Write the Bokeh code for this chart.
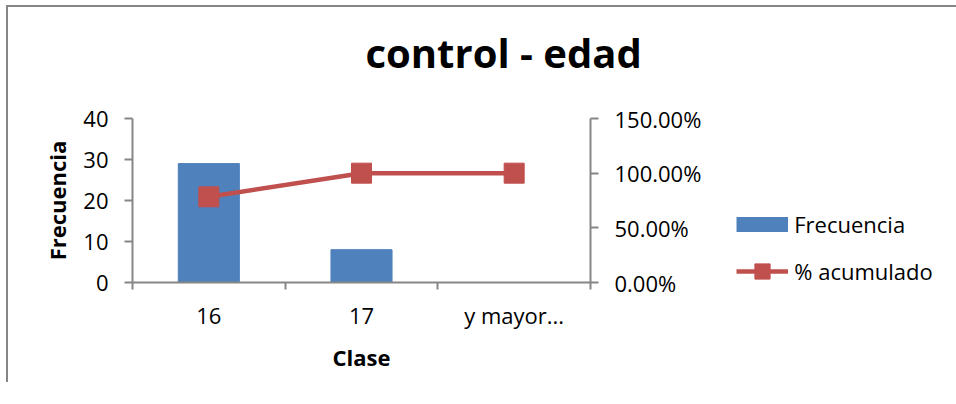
from bokeh.plotting import figure
from bokeh.models import (Range1d, LinearAxis, FixedTicker, NumeralTickFormatter,
                          CustomJSTickFormatter, Legend, LegendItem, Title, ColumnDataSource)
from bokeh.embed import file_html
from bokeh.resources import INLINE

categories = ["16", "17", "y mayor..."]
frecuencia = [29, 8, 0]
acumulado = [0.7838, 1.0, 1.0]
left_ticks = [0, 10, 20, 30, 40]
right_ticks = [0, 0.5, 1.0, 1.5]

FONT = "Open Sans"
AXIS_COLOR = "#868686"
BAR_COLOR = "#4F81BD"
LINE_COLOR = "#C0504D"
TICK_FS = "22px"
LABEL_FS = "22px"

xs = [i + 0.5 for i in range(len(categories))]
src = ColumnDataSource(dict(x=xs, freq=frecuencia, pct=acumulado, cat=categories))

p = figure(frame_width=458, frame_height=164, output_backend="svg", toolbar_location=None,
           x_range=Range1d(0, len(categories)), y_range=Range1d(0, 40),
           min_border_left=124, min_border_right=356, min_border_top=10,
           min_border_bottom=100, outline_line_color=None)
p.styles = {"border-top": "2px solid #868686", "border-left": "2px solid #868686",
            "margin-left": "6px", "margin-top": "5px"}
p.grid.visible = False
p.extra_y_ranges = {"pct": Range1d(0, 1.5), "key": Range1d(-1000, -999)}

# x axis
xa = p.xaxis[0]
xa.ticker = FixedTicker(ticks=xs, minor_ticks=list(range(len(categories) + 1)))
xa.formatter = CustomJSTickFormatter(args=dict(labels=categories),
                                     code="return labels[Math.floor(tick)] || ''")
xa.major_tick_out = 0
xa.major_tick_in = 0
xa.minor_tick_out = 7
xa.minor_tick_in = 0
xa.minor_tick_line_color = AXIS_COLOR
xa.minor_tick_line_width = 2
xa.axis_line_color = AXIS_COLOR
xa.axis_line_width = 2
xa.major_label_text_font = FONT
xa.major_label_text_font_size = TICK_FS
xa.major_label_text_color = "#000000"
xa.major_label_standoff = 10
xa.axis_label = "Clase"
xa.axis_label_text_font = FONT
xa.axis_label_text_font_style = "bold"
xa.axis_label_text_font_size = LABEL_FS
xa.axis_label_text_color = "#000000"
xa.axis_label_standoff = 9

# left axis
ya = p.yaxis[0]
ya.ticker = FixedTicker(ticks=left_ticks)
ya.major_tick_out = 8
ya.major_tick_in = 0
ya.minor_tick_out = 0
ya.minor_tick_in = 0
ya.major_tick_line_color = AXIS_COLOR
ya.major_tick_line_width = 2
ya.axis_line_color = AXIS_COLOR
ya.axis_line_width = 2
ya.major_label_text_font = FONT
ya.major_label_text_font_size = TICK_FS
ya.major_label_text_color = "#000000"
ya.major_label_standoff = 16
ya.axis_label = "Frecuencia"
ya.axis_label_text_font = FONT
ya.axis_label_text_font_style = "bold"
ya.axis_label_text_font_size = LABEL_FS
ya.axis_label_text_color = "#000000"
ya.axis_label_standoff = 8

# right axis
ra = LinearAxis(y_range_name="pct", ticker=FixedTicker(ticks=right_ticks),
                formatter=NumeralTickFormatter(format="0.00%"))
ra.major_tick_out = 8
ra.major_tick_in = 0
ra.minor_tick_out = 0
ra.minor_tick_in = 0
ra.major_tick_line_color = AXIS_COLOR
ra.major_tick_line_width = 2
ra.axis_line_color = AXIS_COLOR
ra.axis_line_width = 2
ra.major_label_text_font = FONT
ra.major_label_text_font_size = TICK_FS
ra.major_label_text_color = "#000000"
ra.major_label_standoff = 16
p.add_layout(ra, "right")

bars = p.vbar(x="x", top="freq", width=0.4, source=src, fill_color=BAR_COLOR,
              line_color=BAR_COLOR)
line = p.line(x="x", y="pct", source=src, y_range_name="pct", line_color=LINE_COLOR,
              line_width=4.5)
marks = p.scatter(x="x", y="pct", source=src, y_range_name="pct", marker="square",
                  size=20, fill_color=LINE_COLOR, line_color=LINE_COLOR)
# legend swatch for the bars: same data on a range that lies outside the frame
bar_key = p.line(x="x", y="freq", source=src, y_range_name="key", line_color=BAR_COLOR,
                 line_width=15, line_cap="butt")

legend = Legend(items=[LegendItem(label="Frecuencia", renderers=[bar_key]),
                       LegendItem(label="% acumulado", renderers=[line, marks])],
                location=(-193, -8), orientation="vertical",
                border_line_color=None, background_fill_alpha=0,
                glyph_width=52, glyph_height=38, label_height=22, spacing=9,
                label_standoff=6, padding=0, margin=0,
                label_text_font=FONT, label_text_font_size=TICK_FS,
                label_text_color="#000000")
p.add_layout(legend, "right")

spacer = Title(text=" ", standoff=4, text_font=FONT, text_font_size="10px")
p.add_layout(spacer, "above")
title = Title(text="control - edad", align="left", offset=233, standoff=34,
              vertical_align="top", text_font=FONT, text_font_style="bold",
              text_font_size="40px", text_color="#000000")
p.add_layout(title, "above")

open("out.html", "w").write(file_html(p, INLINE))
